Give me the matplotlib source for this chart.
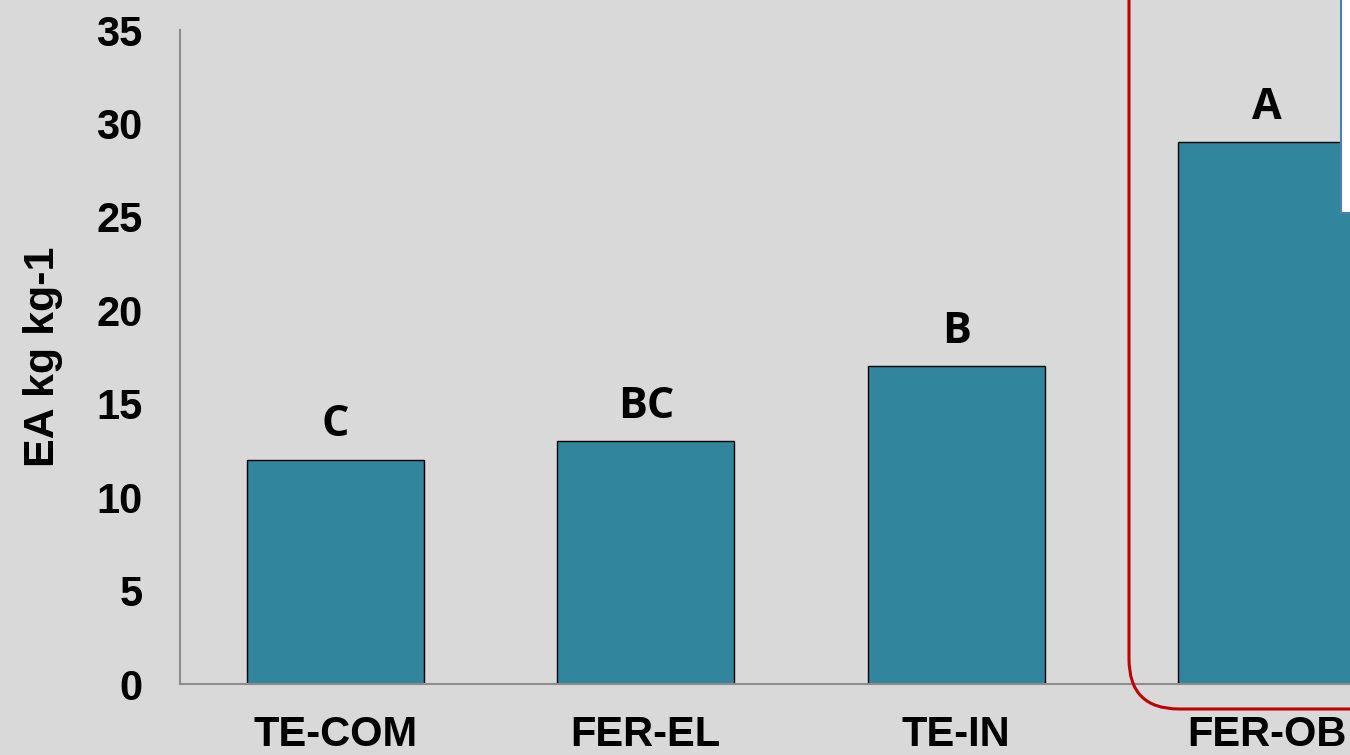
import matplotlib.pyplot as plt
import matplotlib.patches as mpatches

# data
categories = ['TE-COM', 'FER-EL', 'TE-IN', 'FER-OB']
ea_values = [12, 13, 17, 29]
letters = ['C', 'BC', 'B', 'A']

bg = '#d9d9d9'
bar_color = '#31859c'

W, H = 1350, 755
fig = plt.figure(figsize=(W / 100, H / 100), dpi=100, facecolor=bg)
# axes runs past the right edge, the picture is cropped there
ax = fig.add_axes([180 / W, (H - 684) / H, 1242 / W, 654 / H])
ax.set_facecolor(bg)

x = range(len(categories))
ax.bar(x, ea_values, width=0.57, color=bar_color, edgecolor='black', linewidth=1, zorder=2)

for i, (v, t) in enumerate(zip(ea_values, letters)):
    ax.text(i, v + 1.25, t, ha='center', va='baseline', fontsize=31,
            fontweight='bold', family='Open Sans')

ax.set_xlim(-0.5, 3.5)
ax.set_ylim(0, 35)
ax.set_yticks(range(0, 36, 5))
ax.set_xticks(list(x))
ax.set_xticklabels(categories)
for lab in ax.get_xticklabels() + ax.get_yticklabels():
    lab.set_fontsize(30)
    lab.set_fontweight('bold')
    lab.set_family('Liberation Sans')
ax.tick_params(axis='both', length=0)
ax.tick_params(axis='y', pad=27)
ax.tick_params(axis='x', pad=22)

ax.set_ylabel('EA kg kg-1', fontsize=31, fontweight='bold', family='Liberation Sans', labelpad=24)

for s in ['top', 'right']:
    ax.spines[s].set_visible(False)
for s in ['left', 'bottom']:
    ax.spines[s].set_color('#8c8c8c')
    ax.spines[s].set_linewidth(1.5)

# red rounded frame around FER-OB
frame = mpatches.FancyBboxPatch((1129, H - 709), 400, 760,
                                boxstyle='round,pad=0,rounding_size=50',
                                fill=False, edgecolor='#c00000', linewidth=2.2,
                                transform=None, zorder=5)
fig.add_artist(frame)

# white box at top right
box = mpatches.Rectangle((1341, H - 213), 60, 260, facecolor='white',
                         edgecolor='#4f7fae', linewidth=1.5, transform=None, zorder=6)
fig.add_artist(box)

fig.savefig('out.png', dpi=100, facecolor=bg)
